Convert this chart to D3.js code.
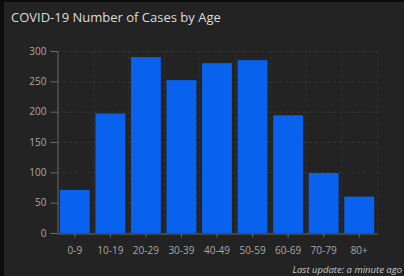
<!DOCTYPE html>
<html>
<head>
<meta charset="utf-8">
<script src="https://cdn.jsdelivr.net/npm/d3@7"></script>
<style>
html,body{margin:0;padding:0;background:#000;}
svg{display:block;}
</style>
</head>
<body>
<svg id="chart" width="404" height="276"></svg>
<script>
const categories = ["0-9","10-19","20-29","30-39","40-49","50-59","60-69","70-79","80+"];
const cases = [71, 197, 290, 252, 280, 285, 194, 99, 60];
const yTicks = [0, 50, 100, 150, 200, 250, 300];
const titleText = "COVID-19 Number of Cases by Age";
const footerText = "Last update: a minute ago";

const svg = d3.select("#chart");
const W = 404, H = 276;
svg.append("rect").attr("x", 0).attr("y", 0).attr("width", W).attr("height", H).attr("fill", "#0c0c0c");
svg.append("rect").attr("x", 4).attr("y", 2).attr("width", W - 4).attr("height", H - 2).attr("fill", "#232323");

svg.append("text").attr("x", 11).attr("y", 22)
  .attr("fill", "#dcdcdc").attr("font-family", "Open Sans, sans-serif").attr("font-size", 13)
  .text(titleText);

const m = {left: 57, right: 377, top: 51, bottom: 233};
const x = d3.scaleBand().domain(categories).range([m.left, m.right]).paddingInner(0.16).paddingOuter(0.08);
const y = d3.scaleLinear().domain([0, 300]).range([m.bottom, m.top]);

// horizontal grid
svg.append("g").selectAll("line").data(yTicks.slice(1)).join("line")
  .attr("x1", m.left).attr("x2", m.right + 2)
  .attr("y1", d => y(d) + 0.5).attr("y2", d => y(d) + 0.5)
  .attr("stroke", "#353535").attr("stroke-dasharray", "3,3");
// vertical grid at band boundaries
const step = x.step();
const bounds = d3.range(1, categories.length + 1).map(i => m.left + i * step);
svg.append("g").selectAll("line").data(bounds).join("line")
  .attr("x1", d => Math.round(d) + 0.5).attr("x2", d => Math.round(d) + 0.5)
  .attr("y1", m.top).attr("y2", m.bottom)
  .attr("stroke", "#303030").attr("stroke-dasharray", "3,3");

// bars
svg.append("g").selectAll("rect").data(cases).join("rect")
  .attr("x", (d, i) => x(categories[i]))
  .attr("width", x.bandwidth())
  .attr("y", d => y(d))
  .attr("height", d => y(0) - y(d))
  .attr("fill", "#0862ee");

// y axis
const yAxis = d3.axisLeft(y).tickValues(yTicks).tickSize(7).tickPadding(4);
const gy = svg.append("g").attr("transform", `translate(${m.left + 0.5},0)`).call(yAxis);
gy.select(".domain").attr("stroke", "#6a6a6a");
gy.selectAll(".tick line").attr("stroke", "#6a6a6a");
gy.selectAll(".tick text").attr("fill", "#a8a8a8").attr("font-size", 10).attr("font-family", "Open Sans, sans-serif");

// x axis
const xAxis = d3.axisBottom(x).tickSize(4).tickPadding(9).tickSizeOuter(0);
const gx = svg.append("g").attr("transform", `translate(0,${m.bottom + 0.5})`).call(xAxis);
gx.select(".domain").attr("stroke", "#6a6a6a");
gx.selectAll(".tick line").attr("stroke", "#6a6a6a");
gx.selectAll(".tick text").attr("fill", "#a8a8a8").attr("font-size", 10).attr("font-family", "Open Sans, sans-serif");

svg.append("text").attr("x", 402).attr("y", 273)
  .attr("text-anchor", "end")
  .attr("fill", "#c8c8c8").attr("font-family", "Open Sans, sans-serif").attr("font-size", 9.5)
  .attr("font-style", "italic")
  .text(footerText);
</script>
</body>
</html>
